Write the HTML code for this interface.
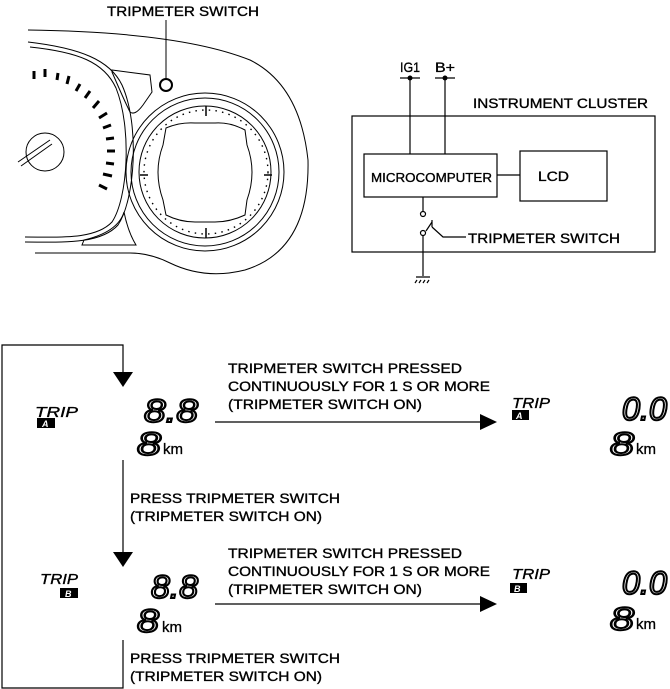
<!DOCTYPE html>
<html><head><meta charset="utf-8"><style>
html,body{margin:0;padding:0;background:#fff;}
svg{display:block;}
text{font-family:"Liberation Sans",Arial,sans-serif;fill:#000;}
.t text{stroke:#000;stroke-width:0.35;}
</style></head><body>
<svg width="670" height="689" viewBox="0 0 670 689" xmlns="http://www.w3.org/2000/svg">
<g fill="none" stroke="#000">
<g stroke-width="1">
<path d="M28 30 Q180 32 250 60 Q300 85 308 160 Q310 250 245 270 Q205 280 170 263 Q150 253 130 253 L35 253"/>
<path d="M28 42 C80 48 110 60 122 85 C140 125 135 200 118 225 C100 245 60 242 25 242"/>
<path d="M30 47 C78 52 104 62 116 88 C132 128 128 198 112 222 C95 240 58 237 25 237"/>
<path d="M112 70 L150 75 L152 92 L143 105 Q135 116 130 112 Q124 100 112 72 Z"/>
<path d="M84 240 L82 245 L136 245 Q128 232 124 212 Q118 232 84 240 Z"/>
<circle cx="205" cy="172" r="79"/>
<circle cx="205" cy="172" r="74"/>
<circle cx="205" cy="172" r="66"/>
<path d="M166 128 Q180 122 195 123 L215 123 Q230 122 245 130 L247 145 Q257 172 247 200 L245 215 Q230 222 215 222 L195 222 Q180 222 166 215 L163 200 Q153 172 163 145 Z"/>
<circle cx="166" cy="85" r="6" stroke-width="2"/>
<line x1="166" y1="20" x2="166" y2="79"/>
<circle cx="45" cy="152" r="19"/>
<line x1="18" y1="162" x2="50" y2="140"/>
<line x1="21" y1="166" x2="52" y2="144"/>
</g>
<g stroke-width="3">
<line x1="34" y1="71" x2="34" y2="79"/><line x1="45" y1="69" x2="45" y2="77"/><line x1="58" y1="73" x2="57" y2="80"/>
<line x1="69" y1="76" x2="67" y2="84"/><line x1="80" y1="84" x2="76" y2="91"/><line x1="90" y1="91" x2="85" y2="98"/>
<line x1="99" y1="101" x2="93" y2="108"/><line x1="107" y1="113" x2="99" y2="118"/><line x1="111" y1="125" x2="103" y2="128"/>
<line x1="114" y1="138" x2="106" y2="139"/><line x1="115" y1="151" x2="107" y2="151"/><line x1="114" y1="164" x2="106" y2="163"/>
<line x1="112" y1="176" x2="103" y2="174"/><line x1="107" y1="189" x2="99" y2="185"/>
</g>
<g stroke-width="1.5">
<line x1="206" y1="106" x2="206" y2="116"/><line x1="206" y1="228" x2="206" y2="238"/>
<line x1="140" y1="175" x2="148" y2="175"/><line x1="264" y1="175" x2="272" y2="175"/>
</g>
<g stroke-width="1.4" stroke-dasharray="1.5 5.2"><circle cx="206" cy="172" r="62"/></g>
<g stroke-width="1.2">
<rect x="352" y="116" width="303" height="136"/>
<rect x="364" y="154" width="133" height="43"/>
<rect x="520" y="151" width="87" height="50"/>
<line x1="497" y1="175" x2="520" y2="175"/>
<line x1="410" y1="78" x2="410" y2="154"/><line x1="445" y1="78" x2="445" y2="154"/>
<line x1="400" y1="78" x2="420" y2="78"/><line x1="435" y1="78" x2="455" y2="78"/>
<line x1="423" y1="197" x2="423" y2="211"/>
<circle cx="423" cy="214" r="2.5"/><circle cx="423" cy="233" r="2.5"/>
<line x1="423" y1="236" x2="423" y2="276"/>
<line x1="432" y1="220" x2="432" y2="227"/>
<path d="M426 231 L432 222 M432 227 L443 237 L466 237"/>
<path d="M416 277 L430 277 M417 280 l-2 3 M421 280 l-2 3 M425 280 l-2 3 M429 280 l-2 3"/>
</g>
<g stroke-width="1.2">
<polyline points="123,640 123,688 2,688 2,345 123,345 123,373"/>
<line x1="123" y1="460" x2="123" y2="553"/>
<line x1="215" y1="422" x2="482" y2="422"/>
<line x1="215" y1="604" x2="482" y2="604"/>
</g>
</g>
<g fill="#000">
<circle cx="410" cy="78" r="2.5"/><circle cx="445" cy="78" r="2.5"/>
<polygon points="113,372 133,372 123,387"/>
<polygon points="113,552 133,552 123,567"/>
<polygon points="480,414 497,422 480,430"/>
<polygon points="480,596 497,604 480,612"/>
<rect x="37" y="418" width="18" height="10"/><rect x="512" y="410" width="17" height="10"/>
<rect x="60" y="588" width="18" height="10"/><rect x="510" y="583" width="17" height="10"/>
</g>
<g font-size="14" class="t">
<text x="107" y="16" textLength="152" lengthAdjust="spacingAndGlyphs">TRIPMETER SWITCH</text>
<text x="400" y="72" textLength="20" lengthAdjust="spacingAndGlyphs">IG1</text>
<text x="435" y="72" textLength="20" lengthAdjust="spacingAndGlyphs">B+</text>
<text x="473" y="108" textLength="175" lengthAdjust="spacingAndGlyphs">INSTRUMENT CLUSTER</text>
<text x="371" y="182" textLength="121" lengthAdjust="spacingAndGlyphs" font-size="13">MICROCOMPUTER</text>
<text x="538" y="181" textLength="31" lengthAdjust="spacingAndGlyphs">LCD</text>
<text x="468" y="243" textLength="152" lengthAdjust="spacingAndGlyphs">TRIPMETER SWITCH</text>
<text x="228" y="373" textLength="234" lengthAdjust="spacingAndGlyphs">TRIPMETER SWITCH PRESSED</text>
<text x="228" y="391" textLength="262" lengthAdjust="spacingAndGlyphs">CONTINUOUSLY FOR 1 S OR MORE</text>
<text x="228" y="409" textLength="194" lengthAdjust="spacingAndGlyphs">(TRIPMETER SWITCH ON)</text>
<text x="130" y="503" textLength="210" lengthAdjust="spacingAndGlyphs">PRESS TRIPMETER SWITCH</text>
<text x="130" y="521" textLength="192" lengthAdjust="spacingAndGlyphs">(TRIPMETER SWITCH ON)</text>
<text x="228" y="558" textLength="234" lengthAdjust="spacingAndGlyphs">TRIPMETER SWITCH PRESSED</text>
<text x="228" y="576" textLength="262" lengthAdjust="spacingAndGlyphs">CONTINUOUSLY FOR 1 S OR MORE</text>
<text x="228" y="594" textLength="194" lengthAdjust="spacingAndGlyphs">(TRIPMETER SWITCH ON)</text>
<text x="130" y="663" textLength="210" lengthAdjust="spacingAndGlyphs">PRESS TRIPMETER SWITCH</text>
<text x="130" y="681" textLength="192" lengthAdjust="spacingAndGlyphs">(TRIPMETER SWITCH ON)</text>
</g>
<g font-style="italic" font-size="15" class="t">
<text x="35" y="417" textLength="43" lengthAdjust="spacingAndGlyphs">TRIP</text>
<text x="512" y="408" textLength="38" lengthAdjust="spacingAndGlyphs">TRIP</text>
<text x="40" y="584" textLength="38" lengthAdjust="spacingAndGlyphs">TRIP</text>
<text x="512" y="579" textLength="38" lengthAdjust="spacingAndGlyphs">TRIP</text>
</g>
<g font-style="italic" font-weight="bold" font-size="9">
<text x="42" y="427" style="fill:#fff">A</text><text x="516" y="419" style="fill:#fff">A</text>
<text x="65" y="597" style="fill:#fff">B</text><text x="514" y="592" style="fill:#fff">B</text>
</g>
<g font-style="italic" font-size="32" stroke="#000" stroke-width="2">
<text x="144" y="422" textLength="54" lengthAdjust="spacingAndGlyphs" style="fill:#fff">8.8</text>
<text x="137" y="455" textLength="24" lengthAdjust="spacingAndGlyphs" style="fill:#fff">8</text>
<text x="622" y="420" textLength="45" lengthAdjust="spacingAndGlyphs" style="fill:#fff">0.0</text>
<text x="610" y="455" textLength="24" lengthAdjust="spacingAndGlyphs" style="fill:#fff">8</text>
<text x="151" y="598" textLength="47" lengthAdjust="spacingAndGlyphs" style="fill:#fff">8.8</text>
<text x="137" y="632" textLength="22" lengthAdjust="spacingAndGlyphs" style="fill:#fff">8</text>
<text x="622" y="594" textLength="45" lengthAdjust="spacingAndGlyphs" style="fill:#fff">0.0</text>
<text x="610" y="630" textLength="24" lengthAdjust="spacingAndGlyphs" style="fill:#fff">8</text>
</g>
<g font-size="15" class="t">
<text x="163" y="454">km</text><text x="636" y="454">km</text>
<text x="162" y="632">km</text><text x="636" y="629">km</text>
</g>
</svg>
</body></html>
